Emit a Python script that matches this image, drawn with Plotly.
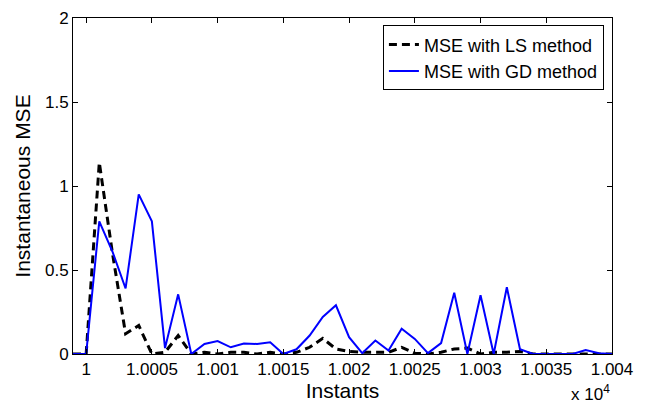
import plotly.graph_objects as go

# Time instants (samples)
instants = list(range(9999, 10041))

# Instantaneous MSE, least-squares estimator
mse_ls = [0.0, 0.0, 1.14, 0.60, 0.12, 0.17, 0.0, 0.01, 0.11, 0.0,
          0.01, 0.0, 0.01, 0.01, 0.0, 0.01, 0.0, 0.01, 0.04, 0.093,
          0.03, 0.015, 0.01, 0.01, 0.01, 0.04, 0.005, 0.0, 0.01, 0.03,
          0.035, 0.0, 0.01, 0.01, 0.015, 0.0, 0.0, 0.0, 0.0, 0.0,
          0.0, 0.0]

# Instantaneous MSE, gradient-descent estimator
mse_gd = [0.0, 0.0, 0.79, 0.61, 0.39, 0.95, 0.79, 0.035, 0.355, 0.0,
          0.06, 0.077, 0.04, 0.063, 0.06, 0.07, 0.0, 0.028, 0.11, 0.22,
          0.29, 0.10, 0.005, 0.08, 0.02, 0.15, 0.09, 0.005, 0.065, 0.365,
          0.0, 0.35, 0.0, 0.397, 0.028, 0.0, 0.0, 0.0, 0.0, 0.024,
          0.005, 0.0]

x_tickvals = list(range(10000, 10041, 5))
x_ticktext = ["1", "1.0005", "1.001", "1.0015", "1.002", "1.0025",
              "1.003", "1.0035", "1.004"]
y_tickvals = [0, 0.5, 1, 1.5, 2]
y_ticktext = ["0", "0.5", "1", "1.5", "2"]

font_family = "Liberation Sans, Arial, Helvetica, sans-serif"

fig = go.Figure()
fig.add_trace(go.Scatter(
    x=instants, y=mse_ls, mode="lines", name="MSE with LS method",
    line=dict(color="black", width=3, dash="8px,5px"),
))
fig.add_trace(go.Scatter(
    x=instants, y=mse_gd, mode="lines", name="MSE with GD method",
    line=dict(color="#0000ff", width=2),
))

axis_common = dict(
    showline=True, linecolor="black", linewidth=1, mirror="ticks",
    ticks="inside", ticklen=5, tickcolor="black", showgrid=False,
    zeroline=False, automargin=False,
    tickfont=dict(size=17, color="black", family=font_family),
)

fig.update_layout(
    width=646, height=406,
    margin=dict(l=73, r=34, t=18, b=52),
    paper_bgcolor="white", plot_bgcolor="white",
    font=dict(family=font_family, color="black"),
    showlegend=True,
    legend=dict(
        x=0.985, y=0.978, xanchor="right", yanchor="top",
        bgcolor="white", bordercolor="black", borderwidth=1,
        font=dict(size=18, color="black", family=font_family),
        tracegroupgap=0, itemwidth=30,
    ),
    xaxis=dict(
        range=[9999, 10040], tickvals=x_tickvals, ticktext=x_ticktext,
        title=dict(text="Instants", font=dict(size=21), standoff=3),
        **axis_common,
    ),
    yaxis=dict(
        range=[0, 2], tickvals=y_tickvals, ticktext=y_ticktext,
        title=dict(text="Instantaneous MSE", font=dict(size=21), standoff=8),
        **axis_common,
    ),
    annotations=[dict(
        text="x 10<sup>4</sup>", xref="paper", yref="paper",
        x=1.0, y=0, xanchor="right", yanchor="top", yshift=-26,
        showarrow=False, font=dict(size=17, color="black", family=font_family),
    )],
)

fig.write_html("out.html")
